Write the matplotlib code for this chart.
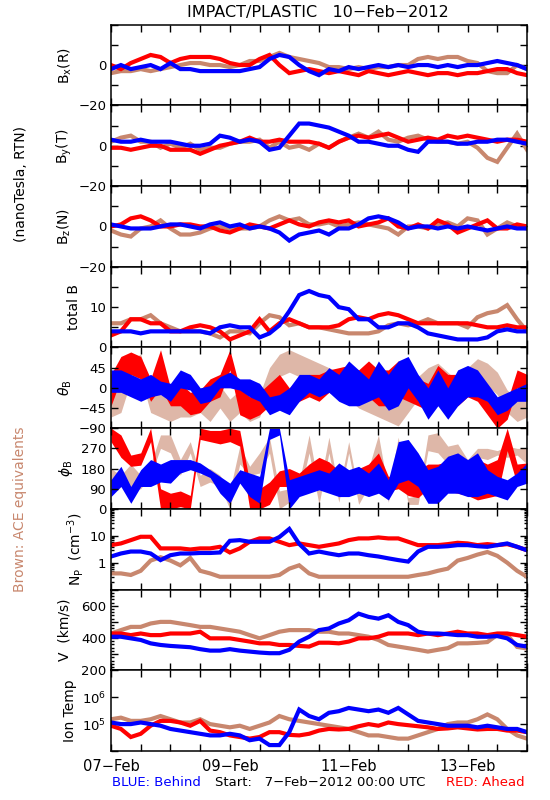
import numpy as np
import matplotlib
matplotlib.use('Agg')
import matplotlib.pyplot as plt
from matplotlib.ticker import FixedLocator, FixedFormatter, MultipleLocator, LogLocator, NullFormatter

plt.rcParams['font.family'] = ['DejaVu Sans']

# ---------------- data (4-hour samples from 07-Feb-2012 00:00 UTC) ----------------
hours = list(range(0, 169, 4))

bx_red = [0,-2,1,3,5,4,1,3,4,4, 4,3,1,0,0,3,5,0,-4,-3, -2,-3,-4,-3,-4,-5,-3,-4,-5,-4,
          -3,-4,-5,-4,-4,-5,-4,-4,-3,-2, -2,-4,-5]
bx_blue = [-2,0,-2,-1,0,-2,1,-2,-2,-3, -3,-3,-3,-3,-2,-1,3,5,4,0, -3,-5,-2,-3,-1,-2,-1,0,-1,0,
           -1,0,0,-1,0,-1,0,0,1,2, 1,0,-2]
bx_brown = [-4,-3,-3,-2,-3,-2,-1,0,1,1, 0,0,-1,0,2,2,4,6,4,3, 2,1,-1,-1,-2,-1,-2,-1,-1,0,
            0,3,4,3,4,4,2,1,-3,-4, -4,0,-2]

by_red = [-1,-1,-2,-1,0,0,-2,-2,-2,-4, -2,0,1,2,4,2,2,3,2,2, 2,1,-1,2,4,5,4,5,6,4,
          2,3,4,3,5,4,5,4,3,2, 3,3,2]
by_blue = [3,2,2,3,2,2,2,1,0,0, 1,5,4,2,3,2,-2,-1,5,11, 11,10,9,7,5,2,2,1,0,0,
           -2,-3,2,2,2,1,1,2,2,3, 3,2,1]
by_brown = [2,4,5,2,2,-1,1,-1,1,-2, -1,-1,1,2,2,3,-1,2,-1,0, -2,1,-1,2,4,6,4,7,3,2,
            4,5,3,2,2,1,2,-1,-6,-8, -1,6,-2]

bz_red = [0,1,4,5,3,0,0,1,1,0, 0,-2,-3,-1,1,0,-1,1,3,1, 0,2,3,2,3,0,1,2,4,0,
          -1,1,-1,3,1,-3,-1,1,3,-1, -1,1,0]
bz_blue = [1,0,-1,-1,-1,0,1,1,0,-1, 1,2,0,1,-1,0,-1,-3,-7,-4, -3,-2,-4,-1,-1,1,4,5,4,2,
           -1,0,0,-1,0,-1,0,-1,-2,-1, 0,-1,-1]
bz_brown = [-2,-4,-5,-1,0,3,-1,-4,-4,-3, -1,0,-1,-1,-1,0,3,5,3,4, 1,1,2,0,1,2,1,0,-1,-4,
            0,0,-1,1,2,0,4,3,-4,-1, 2,0,-1]

btot_red = [3,4,7,7,6,6,4,4,5,5.5, 5,4,2,3,4,7,4,6,7,6, 5,5,5,5.5,7,7.5,7,8,8.5,8,
            7,6,6,6,6,6,6,5.5,5,5, 5.5,5,5]
btot_blue = [4,4,4,3.5,4,4,4,4,4,4, 3.5,5,5.5,5,5,2.5,3.5,5.5,9,13, 14,13,12.5,10,9.5,7,7,5,5,6,
             6,5,3.5,3,2.5,2,2,2,2.5,4, 4.5,4,4]
btot_brown = [6,6,7,7,8,6,5,4,4,4, 3.5,2.5,4,4,3.5,6,8,7.5,5.5,6, 5,5,4.5,4,3.5,3.5,3.5,4,5.5,6,
              5.5,6,7,6,6,6,5,7.5,8.5,9, 10.5,7,4]

theta_red_lo = [-40,20,30,20,-30,0,-40,-40,-60,-55, -30,-20,40,-60,-70,-60,-40,-20,-50,-30,
                -20,-30,-10,-20,-10,-30,-20,-40,-40,-20, -30,-40,-50,-10,-30,-40,-20,-30,-60,-90,
                -70,0,0]
theta_red_hi = [30,70,80,70,20,85,0,10,-10,-5, 20,30,85,0,-20,-10,10,30,0,20,
                30,30,40,45,50,40,60,40,40,60, 40,20,10,50,30,30,40,20,-20,-40,
                -30,40,30]
theta_blue_lo = [-10,-10,-20,-30,-20,-15,-30,0,-5,-35, -30,0,0,-5,-20,-30,-60,-50,-60,-30,
                 -10,-20,-10,-30,-40,-40,-30,-20,-50,-40, 0,-30,-70,-40,-70,-40,-20,-20,-30,-60,
                 -50,-30,-30]
theta_blue_hi = [40,40,30,20,30,15,10,40,30,0, 5,25,35,20,20,10,-20,-15,0,30,
                 30,20,45,30,60,40,20,60,30,60, 70,30,0,40,0,40,50,40,10,-20,
                 -10,0,10]
theta_brown_lo = [-65,-55,15,25,-55,-65,-75,-65,-65,-55, -75,-45,-75,-55,-75,-65,-5,25,35,25,
                  15,5,-5,-15,-25,-45,-55,-65,-75,-85, -55,-25,-5,5,-15,-35,-5,15,5,-15,
                  -55,-75,-65]
theta_brown_hi = [-15,-5,65,75,-5,-15,-25,-15,-15,-5, -25,5,-25,-5,-25,-15,45,75,85,75,
                  65,55,45,35,25,5,-5,-15,-25,-35, -5,25,45,55,35,15,45,65,55,35,
                  -5,-25,-15]

phi_red_lo = [300,230,190,195,300,0,0,10,0,310, 300,290,300,280,0,0,20,100,100,110,
              130,160,150,70,80,90,100,100,80,90, 60,50,90,70,80,70,60,40,50,60,
              260,110,115]
phi_red_hi = [360,330,240,250,360,90,70,80,60,360, 350,350,360,350,120,90,120,170,180,160,
              200,230,210,170,170,180,200,250,145,150, 170,175,200,200,210,190,200,220,200,220,
              360,200,205]
phi_blue_lo = [55,100,25,100,100,120,115,160,175,160, 140,70,25,115,55,25,310,330,0,55,
               70,85,70,55,55,70,55,70,40,115, 130,100,25,25,70,70,55,55,70,55,
               40,100,115]
phi_blue_hi = [130,190,100,175,220,200,220,220,220,205, 175,145,115,175,160,145,360,360,130,145,
               160,175,160,205,175,190,160,205,130,300, 310,250,175,190,235,250,220,250,175,145,
               130,160,205]
phi_brown_lo = [100,100,80,90,150,270,250,150,250,100, 120,100,0,200,150,160,250,0,30,60,
                250,20,250,30,250,20,100,250,30,260, 20,20,260,250,200,220,170,230,220,240,
                230,240,200]
phi_brown_hi = [180,150,200,150,200,330,330,220,300,150, 180,150,80,280,190,250,320,80,90,120,
                330,90,320,80,300,70,180,330,80,320, 50,60,330,340,280,290,220,270,270,260,
                280,270,270]

np_red = [4.5,5.2,6.9,9.2,9.2,3.4,3.4,3.4,3.1,3.4, 3.4,3.9,2.4,3.4,6.0,8.0,8.0,6.0,4.5,5.2,
          4.5,3.9,4.5,5.2,6.9,8.0,8.0,8.7,8.0,8.0, 6.0,4.5,4.5,4.5,4.9,5.5,5.2,4.5,4.9,4.5,
          4.9,3.9,2.9]
np_blue = [1.7,2.2,2.6,2.6,2.2,1.25,1.9,2.2,2.2,2.3, 2.3,2.4,6.5,6.9,6,6,6,9,18,5,
           2.2,2.6,2.2,1.9,2.2,2.2,1.9,1.7,1.45,1.25, 1.1,2.6,3.9,3.9,4.1,4.5,4.5,4.1,3.9,4.5,
           5.2,3.9,2.9]
np_brown = [0.4,0.4,0.35,0.5,1.2,1.6,1.2,0.8,1.5,0.5, 0.4,0.3,0.3,0.3,0.3,0.3,0.3,0.35,0.6,0.8,
            0.4,0.3,0.3,0.3,0.3,0.3,0.3,0.3,0.3,0.3, 0.3,0.35,0.4,0.5,0.6,1.2,1.5,2.0,2.5,1.8,
            1.0,0.5,0.3]

v_red = [428,428,418,428,418,418,428,428,428,439, 398,398,398,388,378,367,367,357,357,351,
         347,371,371,367,378,398,398,408,428,428, 428,418,428,418,428,439,428,428,418,428,
         428,418,408]
v_blue = [408,408,398,388,367,357,351,347,343,331, 322,322,331,322,316,310,306,306,327,378,
          408,449,459,490,510,551,531,520,541,500, 480,439,428,428,424,418,418,408,408,412,
          398,357,347]
v_brown = [428,449,469,469,490,500,500,490,480,469, 469,459,449,439,418,398,418,439,449,449,
           449,439,439,428,428,418,408,388,357,347, 337,327,316,327,337,367,367,370,375,420,
           420,345,335]

log_temp_red = [4.94,4.82,4.52,4.64,4.94,5.12,5.12,5.06,4.94,5.12, 4.76,4.70,4.58,4.52,4.46,4.52,4.70,4.70,4.60,4.58,
                4.64,4.76,4.82,4.80,4.82,4.92,5.0,4.94,5.06,5.0, 4.96,4.92,4.88,4.82,4.84,4.88,4.84,4.80,4.82,4.82,
                4.76,4.76,4.70]
log_temp_blue = [5.06,5.0,5.0,5.06,5.0,4.94,4.82,4.76,4.70,4.64, 4.58,4.58,4.64,4.58,4.40,4.46,4.22,4.22,4.70,5.54,
                 5.30,5.18,5.42,5.48,5.60,5.54,5.48,5.54,5.42,5.60, 5.36,5.12,5.06,5.0,4.94,4.94,4.94,4.88,4.94,4.88,
                 4.82,4.82,4.70]
log_temp_brown = [5.18,5.24,5.12,5.12,5.18,5.30,5.18,5.06,5.06,5.18, 5.0,4.94,4.88,4.94,4.82,4.94,5.06,5.30,5.18,5.12,
                  5.06,5.0,4.94,4.88,4.82,4.70,4.58,4.58,4.52,4.46, 4.46,4.58,4.70,4.82,5.0,5.06,5.06,5.18,5.36,5.18,
                  4.82,4.58,4.46]

date_labels = ['07\u2212Feb', '09\u2212Feb', '11\u2212Feb', '13\u2212Feb']

# ---------------- styling ----------------
BLUE = '#0000ff'
RED = '#ff0000'
BROWN = '#c8876e'
M = '\u2212'

W, H = 550, 800
fig = plt.figure(figsize=(5.5, 8), dpi=100)

x = np.array(hours) / 24.0
xticks = np.arange(0, 7.01, 0.5)
left_px, right_px = 111, 527
top_px, panel_h = 24.7, 80.7

axes = []
for k in range(9):
    b = 1 - (top_px + (k + 1) * panel_h) / H
    ax = fig.add_axes([left_px / W, b, (right_px - left_px) / W, panel_h / H])
    ax.set_xlim(0, 7)
    ax.xaxis.set_major_locator(FixedLocator(xticks))
    ax.tick_params(axis='both', which='both', direction='in', top=True, right=True,
                   labelsize=9.5, width=1.0)
    ax.tick_params(which='major', length=5)
    ax.tick_params(which='minor', length=2.5)
    for s in ax.spines.values():
        s.set_linewidth(1.1)
    if k < 8:
        ax.xaxis.set_major_formatter(NullFormatter())
    axes.append(ax)

lw = 3.0

def three(ax, brown, red, blue):
    ax.plot(x, brown, color=BROWN, lw=lw, solid_joinstyle='miter')
    ax.plot(x, red, color=RED, lw=lw, solid_joinstyle='miter')
    ax.plot(x, blue, color=BLUE, lw=lw, solid_joinstyle='miter')

def band3(ax, blo, bhi, rlo, rhi, ulo, uhi):
    ax.fill_between(x, blo, bhi, color=BROWN, lw=0, alpha=0.6)
    ax.fill_between(x, rlo, rhi, color=RED, lw=0)
    ax.fill_between(x, ulo, uhi, color=BLUE, lw=0)

def setyt(ax, ticks, labels):
    ax.yaxis.set_major_locator(FixedLocator(ticks))
    ax.yaxis.set_major_formatter(FixedFormatter(labels))

# B components
for ax, d in zip(axes[:3], [(bx_brown, bx_red, bx_blue), (by_brown, by_red, by_blue),
                            (bz_brown, bz_red, bz_blue)]):
    three(ax, *d)
    ax.set_ylim(-20, 20)
    setyt(ax, [-20, -10, 0, 10, 20], [M + '20', '', '0', '', ''])

# total B
three(axes[3], btot_brown, btot_red, btot_blue)
axes[3].set_ylim(0, 20)
setyt(axes[3], [0, 5, 10, 15, 20], ['0', '', '10', '', ''])

# theta
band3(axes[4], theta_brown_lo, theta_brown_hi, theta_red_lo, theta_red_hi,
      theta_blue_lo, theta_blue_hi)
axes[4].set_ylim(-90, 90)
setyt(axes[4], [-90, -45, 0, 45, 90], [M + '90', M + '45', '0', '45', ''])

# phi
band3(axes[5], phi_brown_lo, phi_brown_hi, phi_red_lo, phi_red_hi,
      phi_blue_lo, phi_blue_hi)
axes[5].set_ylim(0, 360)
setyt(axes[5], [0, 90, 180, 270, 360], ['0', '90', '180', '270', ''])

# Np
ax = axes[6]
ax.set_yscale('log')
three(ax, np_brown, np_red, np_blue)
ax.set_ylim(0.1, 100)
setyt(ax, [0.1, 1, 10, 100], ['', '1', '10', ''])
ax.yaxis.set_minor_locator(LogLocator(base=10, subs=np.arange(2, 10)))
ax.yaxis.set_minor_formatter(NullFormatter())

# V
ax = axes[7]
three(ax, v_brown, v_red, v_blue)
ax.set_ylim(200, 700)
setyt(ax, [200, 300, 400, 500, 600, 700], ['200', '', '400', '', '600', ''])
ax.yaxis.set_minor_locator(MultipleLocator(20))

# Temp
ax = axes[8]
ax.set_yscale('log')
three(ax, [10 ** v for v in log_temp_brown], [10 ** v for v in log_temp_red],
      [10 ** v for v in log_temp_blue])
ax.set_ylim(1e4, 1e7)
setyt(ax, [1e4, 1e5, 1e6, 1e7], ['', r'$10^5$', r'$10^6$', ''])
ax.yaxis.set_minor_locator(FixedLocator([]))

axes[8].xaxis.set_major_formatter(FixedFormatter(
    [date_labels[i // 4] if i % 4 == 0 else '' for i in range(len(xticks))]))
axes[8].tick_params(axis='x', labelsize=10.5, pad=6)

# y labels
ylabels = [r'B$_{\rm x}$(R)', r'B$_{\rm y}$(T)', r'B$_{\rm z}$(N)', 'total B',
           r'$\theta_{\rm B}$', r'$\phi_{\rm B}$', r'N$_{\rm P}$  (cm$^{-3}$)',
           'V  (km/s)', 'Ion Temp']
label_x = [65, 64, 64, 74, 65, 66, 75, 65, 70]
for k, (lab, lx) in enumerate(zip(ylabels, label_x)):
    cy = top_px + (k + 0.5) * panel_h
    fig.text(lx / W, 1 - cy / H, lab, rotation=90, ha='center', va='center', fontsize=10)

fig.text(21 / W, 1 - 184 / H, '(nanoTesla, RTN)', rotation=90, ha='center', va='center',
         fontsize=10)
fig.text(20 / W, 1 - 509 / H, 'Brown: ACE equivalents', rotation=90, ha='center',
         va='center', fontsize=10, color=BROWN)

fig.text(318 / W, 1 - 12.5 / H, 'IMPACT/PLASTIC   10\u2212Feb\u22122012', ha='center',
         va='center', fontsize=11.5)
fig.text(112 / W, 1 - 783 / H, 'BLUE: Behind', ha='left', va='center', fontsize=9.5,
         color=BLUE)
fig.text(320 / W, 1 - 783 / H, 'Start:   7\u2212Feb\u22122012 00:00 UTC', ha='center',
         va='center', fontsize=9.5)
fig.text(525 / W, 1 - 783 / H, 'RED: Ahead', ha='right', va='center', fontsize=9.5,
         color=RED)

fig.savefig('out.png', dpi=100)
